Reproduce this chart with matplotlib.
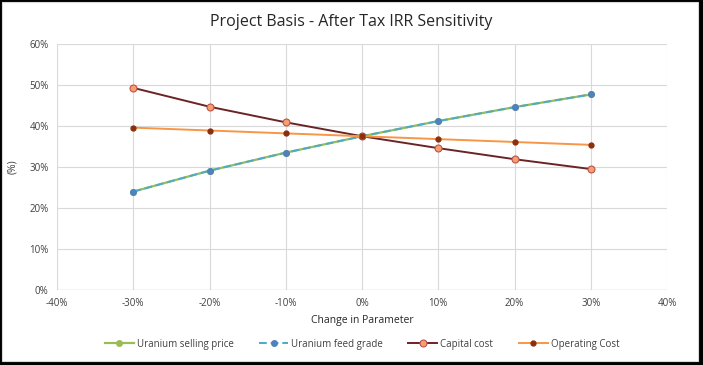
import matplotlib.pyplot as plt
from matplotlib.patches import Rectangle
from matplotlib.ticker import PercentFormatter

plt.rcParams['font.family'] = ['Open Sans', 'DejaVu Sans']
plt.rcParams['axes.unicode_minus'] = False

# change in parameter (%)
change = [-30, -20, -10, 0, 10, 20, 30]

# after tax IRR (%)
selling_price = [24.0, 29.1, 33.5, 37.5, 41.2, 44.6, 47.7]
feed_grade = [24.0, 29.1, 33.5, 37.5, 41.2, 44.6, 47.7]
capital_cost = [49.3, 44.7, 40.9, 37.5, 34.6, 31.9, 29.5]
operating_cost = [39.6, 38.9, 38.2, 37.5, 36.8, 36.1, 35.4]

fig = plt.figure(figsize=(7.03, 3.65), dpi=100, facecolor='black')
# white chart area inside black frame
fig.patches.append(Rectangle((2 / 703, 4 / 365), 696 / 703, 359 / 365,
                             transform=fig.transFigure, facecolor='white',
                             edgecolor='#d9d9d9', linewidth=0.8, zorder=-10))

ax = fig.add_axes([57 / 703, 75 / 365, 610 / 703, 246 / 365])

# later series drawn on top, like the spreadsheet does
ax.plot(change, selling_price, color='#9bbb59', lw=1.6, marker='o', ms=4,
        mfc='#9bbb59', mec='#9bbb59', label='Uranium selling price', zorder=3)
ax.plot(change, feed_grade, color='#4bacc6', lw=1.4, ls=(0, (4, 2)), marker='o',
        ms=4, mfc='#4f81bd', mec='#4f81bd', label='Uranium feed grade', zorder=4)
ax.plot(change, capital_cost, color='#6b2424', lw=1.4, marker='o', ms=5,
        mfc='#f4a06a', mec='#c0504d', mew=0.8, label='Capital cost', zorder=5)
ax.plot(change, operating_cost, color='#f79646', lw=1.4, marker='o', ms=3.5,
        mfc='#8b2f0c', mec='#8b2f0c', label='Operating Cost', zorder=6)

ax.set_xlim(-40, 40)
ax.set_ylim(0, 60)
ax.set_xticks(range(-40, 41, 10))
ax.set_yticks(range(0, 61, 10))
ax.xaxis.set_major_formatter(PercentFormatter(decimals=0))
ax.yaxis.set_major_formatter(PercentFormatter(decimals=0))
ax.grid(True, color='#d9d9d9', lw=0.8)
ax.set_axisbelow(True)
for s in ax.spines.values():
    s.set_visible(False)
ax.axhline(0, color='#bfbfbf', lw=0.9, zorder=1)
ax.tick_params(length=0, labelsize=7, labelcolor='#404040', pad=6)

ax.set_xlabel('Change in Parameter', fontsize=7.5, color='#262626', labelpad=4)
ax.set_ylabel('(%)', fontsize=7.5, color='#404040', labelpad=8)
fig.text(0.5, 343 / 365, 'Project Basis - After Tax IRR Sensitivity',
         ha='center', va='center', fontsize=11.5, color='#262626')

ax.legend(loc='center', bbox_to_anchor=(0.5, -0.22), ncol=4, frameon=False,
          fontsize=7, labelcolor='#404040', handlelength=3, columnspacing=2.6,
          handletextpad=0.3)

fig.savefig('out.png', dpi=100, facecolor=fig.get_facecolor())
